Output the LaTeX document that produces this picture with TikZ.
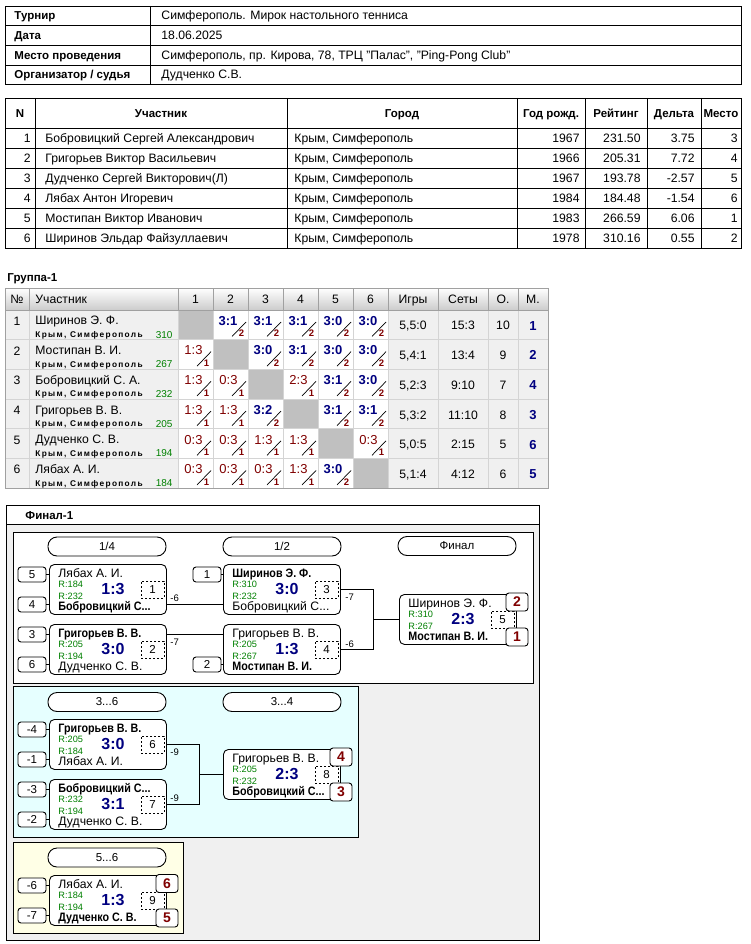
\documentclass[tikz,border=0pt]{standalone}
\usepackage{fontspec}
\setmainfont{Liberation Sans}
\newfontfamily\cityfont[LetterSpace=16]{Liberation Sans}
\newfontfamily\condfont[FakeStretch=0.88]{Liberation Sans}
\usepackage{xcolor}
\usepackage{tikz}
\usetikzlibrary{calc}

\definecolor{navy}{HTML}{000080}
\definecolor{maroon}{HTML}{800000}
\definecolor{rgreen}{HTML}{008000}
\definecolor{cellgray}{HTML}{F0F0F0}
\definecolor{diaggray}{HTML}{C0C0C0}
\definecolor{gridgray}{HTML}{D4D4D4}
\definecolor{headgray}{HTML}{A0A0A0}
\definecolor{cyanbg}{HTML}{E6FFFF}
\definecolor{yellowbg}{HTML}{FFFFE6}
\newcommand\bobro{Бобровицкий С...}
\newcommand\bnm{\condfont\fontsize{12.2}{14}\selectfont\bfseries}

\begin{document}
\begin{tikzpicture}[x=1pt,y=-1pt,line width=0.9pt,
  txt/.style={inner sep=0pt,text height=8.8pt,text depth=0pt,font=\fontsize{12.2}{14}\selectfont},
  txtb/.style={inner sep=0pt,text height=8.3pt,text depth=0pt,font=\fontsize{11.5}{13}\selectfont\bfseries},
  gname/.style={inner sep=0pt,anchor=west,text height=8.8pt,text depth=0pt,font=\fontsize{12.2}{14}\selectfont},
  gcity/.style={inner sep=0pt,anchor=west,text height=6pt,text depth=0pt,font=\cityfont\fontsize{8.3}{9}\selectfont\bfseries},
  grt/.style={inner sep=0pt,anchor=east,text height=7.2pt,text depth=0pt,text=rgreen,font=\fontsize{10}{12}\selectfont},
  gwin/.style={inner sep=0pt,text height=9.4pt,text depth=0pt,text=navy,font=\fontsize{13}{15}\selectfont\bfseries},
  gloss/.style={inner sep=0pt,text height=9.4pt,text depth=0pt,text=maroon,font=\fontsize{13}{15}\selectfont},
  gpt/.style={inner sep=0pt,text height=6.8pt,text depth=0pt,text=maroon,font=\fontsize{9.5}{10}\selectfont\bfseries},
  match/.style={draw,fill=white,rounded corners=5pt,minimum width=117pt,minimum height=50pt,inner sep=0pt,anchor=north west},
  pill/.style={draw,fill=white,rounded corners=9pt,minimum width=118pt,minimum height=19pt,inner sep=0pt,font=\fontsize{11.5}{13}\selectfont},
  seed/.style={draw,fill=white,rounded corners=3pt,minimum width=28pt,minimum height=15pt,inner sep=0pt,font=\fontsize{11.5}{13}\selectfont},
  place/.style={draw,fill=white,rounded corners=3pt,minimum width=22pt,minimum height=18pt,inner sep=0pt,text=maroon,font=\fontsize{14}{16}\selectfont\bfseries},
  mnum/.style={draw,dash pattern=on 2pt off 2pt,line width=0.7pt,minimum width=23pt,minimum height=17pt,inner sep=0pt,font=\fontsize{11.5}{13}\selectfont},
  mname/.style={inner sep=0pt,anchor=west,text height=8.8pt,text depth=0pt,font=\fontsize{12.2}{14}\selectfont},
  mrt/.style={inner sep=0pt,anchor=west,text height=6.6pt,text depth=0pt,text=rgreen,font=\fontsize{9.2}{11}\selectfont},
  mscore/.style={inner sep=0pt,text height=11.5pt,text depth=0pt,text=navy,font=\fontsize{16}{18}\selectfont\bfseries},
  nextm/.style={inner sep=0pt,anchor=west,text height=6.8pt,text depth=0pt,font=\fontsize{9.5}{11}\selectfont}]

\fill[white] (0,0) rectangle (750,944);
\useasboundingbox (0,0) rectangle (750,944);

% info table
\draw (5,6) rectangle (741,84);
\foreach \y in {25,45,65} \draw (5,\y) -- (741,\y);
\draw (150,6) -- (150,84);
\node[txtb,anchor=west] (i1) at (14,15.5) {Турнир};
\node[txt,anchor=west] (v1) at (161,15.5) {Симферополь. Мирок настольного тенниса};
\node[txtb,anchor=west] (i2) at (14,35) {Дата};
\node[txt,anchor=west] (v2) at (161,35) {18.06.2025};
\node[txtb,anchor=west] (i3) at (14,55) {Место проведения};
\node[txt,anchor=west] (v3) at (161,55) {Симферополь, пр. Кирова, 78, ТРЦ "Палас", "Ping-Pong Club"};
\node[txtb,anchor=west] (i4) at (14,74.5) {Организатор / судья};
\node[txt,anchor=west] (v4) at (161,74.5) {Дудченко С.В.};

% participants
\draw (5,98) rectangle (741,248);
\foreach \y in {128,148,168,188,208,228} \draw (5,\y) -- (741,\y);
\foreach \x in {35,287,517,585,647,701} \draw (\x,98) -- (\x,248);
\node[txtb] (h1) at (20,113) {N};
\node[txtb] (h2) at (161,113) {Участник};
\node[txtb] (h3) at (402,113) {Город};
\node[txtb] (h4) at (551,113) {Год рожд.};
\node[txtb] (h5) at (616,113) {Рейтинг};
\node[txtb] (h6) at (674,113) {Дельта};
\node[txtb] (h7) at (721,113) {Место};
\foreach \pn/\yr/\rt/\dl/\pl [count=\i] in {Бобровицкий Сергей Александрович/1967/231.50/3.75/3,
    Григорьев Виктор Васильевич/1966/205.31/7.72/4,
    Дудченко Сергей Викторович(Л)/1967/193.78/-2.57/5,
    Лябах Антон Игоревич/1984/184.48/-1.54/6,
    Мостипан Виктор Иванович/1983/266.59/6.06/1,
    Ширинов Эльдар Файзуллаевич/1978/310.16/0.55/2} {
  \node[txt,anchor=east] (pn\i) at (31,118+20*\i) {\i};
  \node[txt,anchor=west] (pp\i) at (45,118+20*\i) {\pn};
  \node[txt,anchor=west] (pc\i) at (294,118+20*\i) {Крым, Симферополь};
  \node[txt,anchor=east] (py\i) at (580,118+20*\i) {\yr};
  \node[txt,anchor=east] (pr\i) at (641,118+20*\i) {\rt};
  \node[txt,anchor=east] (pd\i) at (695,118+20*\i) {\dl};
  \node[txt,anchor=east] (pl\i) at (738,118+20*\i) {\pl};
}

% group
\node[txtb,anchor=west] (grp) at (7,277) {Группа-1};
\shade[top color=white,bottom color=black!20] (5,288) rectangle (548,310);
\fill[cellgray] (5,310) rectangle (178,488);
\fill[cellgray] (388,310) rectangle (548,488);
\foreach \x in {29,178,213,248,283,318,353,388,438,488,518}
  \draw[headgray,line width=0.7pt] (\x,288) -- (\x,310);
\foreach \x in {29,178,213,248,283,318,353,388,438,488,518}
  \draw[gridgray,line width=0.7pt] (\x,310) -- (\x,488);
\foreach \y in {339.7,369.4,399.1,428.8,458.5}
  \draw[gridgray,line width=0.7pt] (5,\y) -- (548,\y);
\draw[headgray,line width=0.7pt] (5,288) rectangle (548,488);
\draw[headgray,line width=0.7pt] (5,310) -- (548,310);
\node[txt] (gh0) at (17,299) {№};
\node[txt,anchor=west] (gh1) at (35,299) {Участник};
\foreach \j in {1,...,6}
  \node[txt] (ghc\j) at (160.5+35*\j,299) {\j};
\node[txt] (gh7) at (413,299) {Игры};
\node[txt] (gh8) at (463,299) {Сеты};
\node[txt] (gh9) at (503,299) {О.};
\node[txt] (gh10) at (533,299) {М.};
\foreach \gn/\gr/\gi/\gs/\go/\gm [count=\i] in {Ширинов Э. Ф./310/{5,5:0}/15:3/10/1,
    Мостипан В. И./267/{5,4:1}/13:4/9/2,
    Бобровицкий С. А./232/{5,2:3}/9:10/7/4,
    Григорьев В. В./205/{5,3:2}/11:10/8/3,
    Дудченко С. В./194/{5,0:5}/2:15/5/6,
    Лябах А. И./184/{5,1:4}/4:12/6/5} {
  \pgfmathsetmacro\ry{310+29.7*(\i-1)}
  \node[txt] (gn\i) at (17,\ry+11) {\i};
  \node[gname] (gp\i) at (35,\ry+10.5) {\gn};
  \node[gcity] (gc\i) at (35,\ry+24.5) {Крым, Симферополь};
  \node[grt] (gr\i) at (173,\ry+24.5) {\gr};
  \node[txt] (gi\i) at (413,\ry+15.5) {\gi};
  \node[txt] (gs\i) at (463,\ry+15.5) {\gs};
  \node[txt] (go\i) at (503,\ry+15.5) {\go};
  \node[gwin] (gm\i) at (533,\ry+15.5) {\gm};
}
\foreach \row [count=\i] in {{-/0,3:1/2,3:1/2,3:1/2,3:0/2,3:0/2},
    {1:3/1,-/0,3:0/2,3:1/2,3:0/2,3:0/2},
    {1:3/1,0:3/1,-/0,2:3/1,3:1/2,3:0/2},
    {1:3/1,1:3/1,3:2/2,-/0,3:1/2,3:1/2},
    {0:3/1,0:3/1,1:3/1,1:3/1,-/0,0:3/1},
    {0:3/1,0:3/1,0:3/1,1:3/1,3:0/2,-/0}} {
  \pgfmathsetmacro\ry{310+29.7*(\i-1)}
  \foreach \gsc/\gpt [count=\j] in \row {
    \pgfmathsetmacro\cx{178+35*(\j-1)}
    \ifnum\gpt=0
      \fill[diaggray] (\cx+0.5,\ry+0.5) rectangle (\cx+34.5,\ry+29.2);
    \else
      \ifnum\gpt=2
        \node[gwin] (g\i-\j) at (\cx+15,\ry+10.5) {\gsc};
      \else
        \node[gloss] (g\i-\j) at (\cx+15.5,\ry+10.5) {\gsc};
      \fi
      \draw[line width=0.7pt] (\cx+19,\ry+26.5) -- (\cx+33,\ry+12);
      \node[gpt] (gq\i-\j) at (\cx+28.5,\ry+23.5) {\gpt};
    \fi
  }
}

% final
\draw[fill=cellgray] (6,505) rectangle (539,940);
\draw[fill=white] (6,505) rectangle (539,524);
\node[txtb,anchor=west] (fin) at (25,515) {Финал-1};
\draw[fill=white] (13,532) rectangle (533,683);
\draw[fill=cyanbg] (13,686) rectangle (358,837);
\draw[fill=yellowbg] (13,842) rectangle (183,933);

\node[pill] (r1) at (107,546.5) {1/4};
\node[pill] (r2) at (282,546.5) {1/2};
\node[pill] (r3) at (457,546) {Финал};
\node[pill] (r4) at (107,702) {3...6};
\node[pill] (r5) at (282,702) {3...4};
\node[pill] (r6) at (107,857.5) {5...6};

\foreach \mm/\mx/\my/\na/\ra/\msc/\rb/\nb/\nr/\wn in {1/49/564/Лябах А. И./184/1:3/232/\bobro/1/2,
    2/49/624/Григорьев В. В./205/3:0/194/Дудченко С. В./2/1,
    3/223/564/Ширинов Э. Ф./310/3:0/232/\bobro/3/1,
    4/223/624/Григорьев В. В./205/1:3/267/Мостипан В. И./4/2,
    5/399/594/Ширинов Э. Ф./310/2:3/267/Мостипан В. И./5/2,
    6/49/719/Григорьев В. В./205/3:0/184/Лябах А. И./6/1,
    7/49/779/\bobro/232/3:1/194/Дудченко С. В./7/1,
    8/223/749/Григорьев В. В./205/2:3/232/\bobro/8/2,
    9/49/875/Лябах А. И./184/1:3/194/Дудченко С. В./9/2} {
  \node[match] (m\mm) at (\mx,\my) {};
  \node[mname] (m\mm-a) at (\mx+9,\my+9.5) {\ifnum\wn=1\bnm\fi\na};
  \node[mrt] (m\mm-ra) at (\mx+9,\my+20.5) {R:\ra};
  \node[mrt] (m\mm-rb) at (\mx+9,\my+32) {R:\rb};
  \node[mname] (m\mm-b) at (\mx+9,\my+42) {\ifnum\wn=2\bnm\fi\nb};
  \node[mscore] (m\mm-s) at (\mx+64,\my+25) {\msc};
  \node[mnum] (m\mm-n) at (\mx+103.5,\my+25.5) {\nr};
}

\foreach \sn/\sx/\sy/\sm [count=\k] in {5/32/574.5/1, 4/32/604.5/1, 3/32/634.5/2, 6/32/664.5/2,
    1/207/574.5/3, 2/207/664.5/4, -4/32/729.5/6, -1/32/759.5/6,
    -3/32/789.5/7, -2/32/819.5/7, -6/32/885.5/9, -7/32/915.5/9} {
  \node[seed] (sd\k) at (\sx,\sy) {\sn};
  \draw (sd\k.east) -- (sd\k.east -| m\sm.west);
}

\draw ([yshift=-15pt]m1.east) -- ([yshift=-15pt]m3.west);
\draw ([yshift=15pt]m2.east) -- ([yshift=15pt]m4.west);
\draw (m3.east) -- ++(33,0) coordinate (j1) |- (m4.east);
\draw (j1 |- m5.west) -- (m5.west);
\draw (m6.east) -- ++(33,0) coordinate (j2) |- (m7.east);
\draw (j2 |- m8.west) -- (m8.west);

\node[nextm] (nx1) at (170,598) {-6};
\node[nextm] (nx2) at (170,642) {-7};
\node[nextm] (nx3) at (345,597) {-7};
\node[nextm] (nx4) at (345,644) {-6};
\node[nextm] (nx6) at (170,752) {-9};
\node[nextm] (nx7) at (170,798) {-9};

\node[place] (pl1) at (517,602) {2};
\node[place] (pl2) at (517,637) {1};
\node[place] (pl3) at (341,757) {4};
\node[place] (pl4) at (341,792) {3};
\node[place] (pl5) at (167,883.5) {6};
\node[place] (pl6) at (167,918) {5};

\end{tikzpicture}
\end{document}
